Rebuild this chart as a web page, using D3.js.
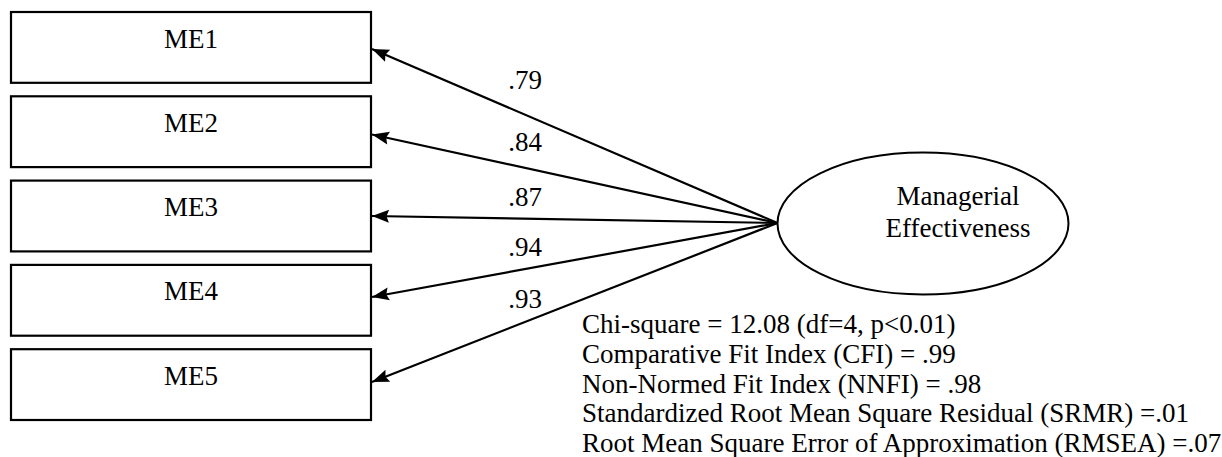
<!DOCTYPE html>
<html>
<head>
<meta charset="utf-8">
<script src="https://cdn.jsdelivr.net/npm/d3@7"></script>
<style>
  html, body { margin: 0; padding: 0; background: #fff; }
  svg { display: block; }
  text { font-family: "Liberation Serif", "DejaVu Serif", serif; fill: #000; }
</style>
</head>
<body>
<svg id="chart" width="1222" height="457"></svg>
<script>
// ---- data ----
const indicators = ["ME1", "ME2", "ME3", "ME4", "ME5"];
const loadings = [".79", ".84", ".87", ".94", ".93"];
const latentLabel = ["Managerial", "Effectiveness"];
const fitStats = [
  "Chi-square = 12.08 (df=4, p<0.01)",
  "Comparative Fit Index (CFI) = .99",
  "Non-Normed Fit Index (NNFI) = .98",
  "Standardized Root Mean Square Residual (SRMR) =.01",
  "Root Mean Square Error of Approximation (RMSEA) =.07"
];

// ---- layout ----
const svg = d3.select("#chart");
const fontSize = 27;

const y = d3.scaleBand().domain(indicators).range([12, 420]).paddingInner(0.16);
const boxX0 = 11, boxX1 = 371;
const ell = { cx: 923, cy: 223.5, rx: 145.5, ry: 71 };
const origin = [ell.cx - ell.rx, 223];
const tipY = [49, 134.5, 216, 297, 382];   // arrow tip anchors on box edges
const labelX = 525;
const labelDy = [26, 17, 13, 13, 14];

// arrow marker (tip at the box edge, body pointing toward the latent variable)
const defs = svg.append("defs");
defs.append("marker")
  .attr("id", "arrow")
  .attr("viewBox", "0 -7 18 14")
  .attr("refX", 0).attr("refY", 0)
  .attr("markerWidth", 18).attr("markerHeight", 14)
  .attr("markerUnits", "userSpaceOnUse")
  .attr("orient", "auto")
  .append("path")
  .attr("d", "M0,0 L17,-6.5 L14.5,0 L17,6.5 Z")
  .attr("fill", "#000");

// boxes
const boxes = svg.append("g").selectAll("g").data(indicators).join("g");
boxes.append("rect")
  .attr("x", boxX0)
  .attr("y", d => y(d))
  .attr("width", boxX1 - boxX0)
  .attr("height", y.bandwidth())
  .attr("fill", "#fff")
  .attr("stroke", "#000")
  .attr("stroke-width", 2.2);
boxes.append("text")
  .attr("x", (boxX0 + boxX1) / 2)
  .attr("y", d => y(d) + 35.5)
  .attr("text-anchor", "middle")
  .attr("font-size", fontSize)
  .text(d => d);

// arrows
const lineYAt = (i, x) => origin[1] + (tipY[i] - origin[1]) * (origin[0] - x) / (origin[0] - boxX1);
svg.append("g").selectAll("line").data(indicators).join("line")
  .attr("x1", boxX1 + 1)
  .attr("y1", (d, i) => tipY[i])
  .attr("x2", origin[0])
  .attr("y2", origin[1])
  .attr("stroke", "#000")
  .attr("stroke-width", 2.2)
  .attr("marker-start", "url(#arrow)");

// loadings
svg.append("g").selectAll("text").data(loadings).join("text")
  .attr("x", labelX)
  .attr("y", (d, i) => lineYAt(i, labelX) - labelDy[i])
  .attr("text-anchor", "middle")
  .attr("font-size", fontSize)
  .text(d => d);

// latent ellipse
svg.append("ellipse")
  .attr("cx", ell.cx).attr("cy", ell.cy)
  .attr("rx", ell.rx).attr("ry", ell.ry)
  .attr("fill", "none")
  .attr("stroke", "#000")
  .attr("stroke-width", 2);
svg.append("g").selectAll("text").data(latentLabel).join("text")
  .attr("x", 958)
  .attr("y", (d, i) => 205 + i * 32)
  .attr("text-anchor", "middle")
  .attr("font-size", fontSize)
  .text(d => d);

// fit statistics
svg.append("g").selectAll("text").data(fitStats).join("text")
  .attr("x", 582)
  .attr("y", (d, i) => 333 + i * 29.8)
  .attr("font-size", fontSize)
  .text(d => d);
</script>
</body>
</html>
